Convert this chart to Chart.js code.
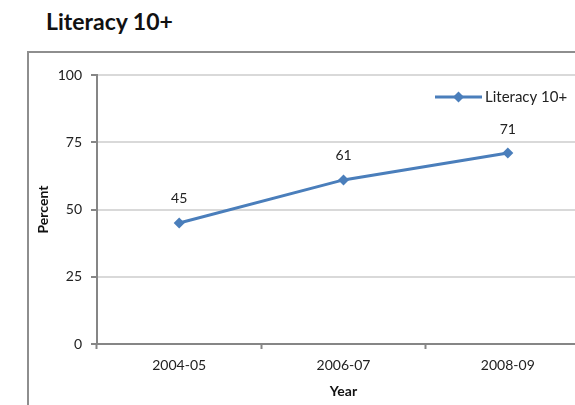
<!DOCTYPE html>
<html>
<head>
<meta charset="utf-8">
<script src="https://cdn.jsdelivr.net/npm/chart.js@4/dist/chart.umd.min.js"></script>
<style>
  html, body { margin: 0; padding: 0; background: #fff; overflow: hidden; width: 575px; height: 405px; }
  #frame { position: absolute; left: 27px; top: 51px; width: 700px; height: 500px; border: 2px solid #8e8e8e; box-sizing: border-box; }
  #title { position: absolute; left: 46px; top: 7px; font-family: Lato, sans-serif; font-weight: bold; font-size: 23px; color: #111; white-space: nowrap; }
  #wrap { position: absolute; left: 0; top: 0; width: 600px; height: 405px; }
</style>
</head>
<body>
<div id="frame"></div>
<div id="title">Literacy 10+</div>
<div id="wrap"><canvas id="c" width="600" height="405"></canvas></div>
<script>
const categories = ["2004-05", "2006-07", "2008-09"];
const literacyValues = [45, 61, 71];
const seriesLabel = "Literacy 10+";
const yTicks = [0, 25, 50, 75, 100];
const xTitle = "Year";
const yTitle = "Percent";

const LINE = '#4a7ebb';
const AXIS = '#868686';
const GRID = '#d9d9d9';
const FONT = 'Lato, sans-serif';

const overlay = {
  id: 'overlay',
  afterDatasetsDraw(chart) {
    const ctx = chart.ctx;
    const meta = chart.getDatasetMeta(0);
    const ds = chart.data.datasets[0];
    ctx.save();
    ctx.font = '14px ' + FONT;
    ctx.fillStyle = '#222';
    ctx.textAlign = 'center';
    ctx.textBaseline = 'middle';
    meta.data.forEach((pt, i) => {
      ctx.fillText(String(ds.data[i]), pt.x, pt.y - 24);
    });
    // legend
    const ca = chart.chartArea;
    const lx0 = ca.left + 338, lx1 = ca.left + 385, ly = ca.top + 22;
    ctx.strokeStyle = LINE;
    ctx.lineWidth = 3;
    ctx.beginPath();
    ctx.moveTo(lx0, ly); ctx.lineTo(lx1, ly); ctx.stroke();
    const cx = (lx0 + lx1) / 2, r = 5.5;
    ctx.fillStyle = LINE;
    ctx.beginPath();
    ctx.moveTo(cx, ly - r); ctx.lineTo(cx + r, ly); ctx.lineTo(cx, ly + r); ctx.lineTo(cx - r, ly); ctx.closePath();
    ctx.fill();
    ctx.font = '15px ' + FONT;
    ctx.fillStyle = '#222';
    ctx.textAlign = 'left';
    ctx.fillText(ds.label, lx1 + 3, ly);
    ctx.restore();
  }
};

new Chart(document.getElementById('c'), {
  type: 'line',
  data: {
    labels: categories,
    datasets: [{
      label: seriesLabel,
      data: literacyValues,
      borderColor: LINE,
      backgroundColor: LINE,
      borderWidth: 3,
      pointStyle: 'rectRot',
      pointRadius: 5.5,
      pointHoverRadius: 5.5,
      pointBorderWidth: 0,
      tension: 0
    }]
  },
  options: {
    responsive: false,
    animation: false,
    events: [],
    layout: { padding: { top: 75, right: 10, bottom: 0, left: 0 } },
    plugins: { legend: { display: false }, tooltip: { enabled: false }, title: { display: false } },
    scales: {
      x: {
        type: 'category',
        offset: true,
        grid: { display: true, offset: true, drawOnChartArea: false, drawTicks: true, tickLength: 5, tickColor: AXIS, tickWidth: 2, color: AXIS },
        border: { color: AXIS, width: 2 },
        ticks: { color: '#222', font: { family: FONT, size: 14 }, padding: 8, maxRotation: 0 },
        title: { display: true, text: xTitle, color: '#111', font: { family: FONT, size: 14, weight: 'bold' }, padding: { top: 4, bottom: 5 } },
        afterFit(s) { s.height = 61; }
      },
      y: {
        min: 0, max: 100,
        afterBuildTicks(s) { s.ticks = yTicks.map(v => ({ value: v })); },
        grid: { color: GRID, lineWidth: 2, drawTicks: true, tickLength: 6, tickColor: AXIS, tickWidth: 2 },
        border: { color: AXIS, width: 2 },
        ticks: { color: '#222', font: { family: FONT, size: 14 }, padding: 9 },
        title: { display: true, text: yTitle, color: '#111', font: { family: FONT, size: 14, weight: 'bold' }, padding: { top: 35, bottom: 4 } },
        afterFit(s) { s.width = 97; }
      }
    }
  },
  plugins: [overlay]
});
</script>
</body>
</html>
